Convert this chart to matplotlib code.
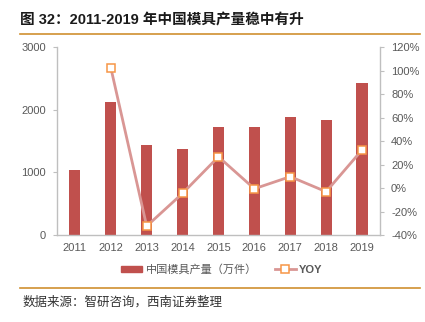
import matplotlib.pyplot as plt
from matplotlib.lines import Line2D
from matplotlib.patches import Patch
from matplotlib.ticker import FuncFormatter

plt.rcParams['font.family'] = ['Liberation Sans', 'Noto Sans CJK SC', 'DejaVu Sans']

years = ['2011', '2012', '2013', '2014', '2015', '2016', '2017', '2018', '2019']
output = [1045, 2115, 1430, 1366, 1730, 1720, 1886, 1828, 2420]  # 万件
yoy = [None, 102.5, -32.4, -4.5, 26.6, -0.6, 9.7, -3.1, 32.4]  # %

BAR_COLOR = '#C0504D'
LINE_COLOR = '#D99694'
MARK_EDGE = '#F79646'
AXIS_COLOR = '#BFBFBF'
TEXT_COLOR = '#595959'
RULE_COLOR = '#D09030'

fig = plt.figure(figsize=(4.25, 3.22), dpi=100)
ax = fig.add_axes([0.134, 0.270, 0.760, 0.584])
x = list(range(len(years)))

ax.bar(x, output, width=0.31, color=BAR_COLOR, zorder=2)
ax.set_xlim(-0.5, len(years) - 0.5)
ax.set_ylim(0, 3000)
ax.set_yticks([0, 1000, 2000, 3000])
ax.set_xticks(x)
ax.set_xticklabels(years)

ax2 = ax.twinx()
yx = [i for i, v in zip(x, yoy) if v is not None]
yv = [v for v in yoy if v is not None]
ax2.plot(yx, yv, color=LINE_COLOR, lw=2, marker='s', ms=5.5,
         mfc='white', mec=MARK_EDGE, mew=1.1, zorder=3)
ax2.set_ylim(-40, 120)
ax2.set_yticks(range(-40, 121, 20))
ax2.yaxis.set_major_formatter(FuncFormatter(lambda v, p: f'{int(v)}%'))

for a in (ax, ax2):
    for s in a.spines.values():
        s.set_visible(False)
    a.tick_params(colors=AXIS_COLOR, labelcolor=TEXT_COLOR, labelsize=8, length=3, width=0.8, pad=5)
ax.spines['left'].set_visible(True)
ax.spines['bottom'].set_visible(True)
ax2.spines['right'].set_visible(True)
for s in (ax.spines['left'], ax.spines['bottom'], ax2.spines['right']):
    s.set_color(AXIS_COLOR)
    s.set_linewidth(1)
ax.tick_params(axis='x', length=0, pad=6)

handles = [Patch(color=BAR_COLOR),
           Line2D([0], [0], color=LINE_COLOR, lw=2, marker='s', ms=5.5,
                  mfc='white', mec=MARK_EDGE, mew=1.1)]
leg = fig.legend(handles, ['中国模具产量（万件）', 'YOY'], loc='center',
                 bbox_to_anchor=(0.522, 0.163), ncol=2, frameon=False,
                 fontsize=8, handlelength=1.9, handleheight=0.5,
                 columnspacing=1.6, handletextpad=0.3)
for t in leg.get_texts():
    t.set_color(TEXT_COLOR)
leg.get_texts()[1].set_fontweight('bold')

fig.text(0.047, 0.938, '图 32：2011-2019 年中国模具产量稳中有升', fontsize=10.5,
         fontweight='bold', color='#1a1a1a', va='center', ha='left')
fig.add_artist(Line2D([0.047, 0.988], [0.894, 0.894], color=RULE_COLOR, lw=1.2))
fig.add_artist(Line2D([0.047, 0.988], [0.105, 0.105], color=RULE_COLOR, lw=1.2))
fig.text(0.052, 0.060, '数据来源：智研咨询，西南证券整理', fontsize=9,
         style='italic', color='#333333', va='center', ha='left')

fig.savefig('out.png', dpi=100, facecolor='white')
